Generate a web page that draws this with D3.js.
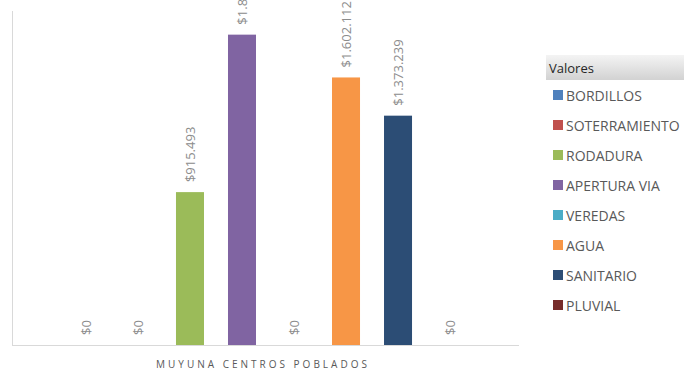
<!DOCTYPE html>
<html><head><meta charset="utf-8">
<script src="https://cdn.jsdelivr.net/npm/d3@7"></script>
<style>body{margin:0;background:#fff}</style>
</head><body>
<svg id="c" width="684" height="372"></svg>
<script>
const categories = ["BORDILLOS","SOTERRAMIENTO","RODADURA","APERTURA VIA","VEREDAS","AGUA","SANITARIO","PLUVIAL"];
const values = [0, 0, 915493, 1858410, 0, 1602112, 1373239, 0];
const labels = ["$0","$0","$915.493","$1.858.410","$0","$1.602.112","$1.373.239","$0"];
const colors = ["#4f81bd","#c0504d","#9bbb59","#8064a2","#4bacc6","#f79646","#2c4d75","#772c2a"];
const axisLabel = "MUYUNA CENTROS POBLADOS";
const legendTitle = "Valores";

const svg = d3.select("#c");
const font = "'Open Sans', sans-serif";
const x = d3.scaleBand().domain(categories).range([60, 476]).paddingInner(0.4615).paddingOuter(0.23);
const y = d3.scaleLinear().domain([0, 2000000]).range([345, 11]);

// axis lines
svg.append("line").attr("x1",12.5).attr("x2",12.5).attr("y1",y(2000000)).attr("y2",y(0)).attr("stroke","#d9d9d9");
svg.append("line").attr("x1",12).attr("x2",519).attr("y1",y(0)+0.5).attr("y2",y(0)+0.5).attr("stroke","#d9d9d9");

const data = categories.map((c,i)=>({c, v:values[i], l:labels[i], col:colors[i]}));
svg.selectAll("rect.bar").data(data).enter().append("rect")
  .attr("x", d=>x(d.c)).attr("width", x.bandwidth())
  .attr("y", d=>y(d.v)).attr("height", d=>y(0)-y(d.v))
  .attr("fill", d=>d.col);

svg.selectAll("text.val").data(data).enter().append("text")
  .attr("transform", d=>`translate(${x(d.c)+x.bandwidth()/2},${y(d.v)-10}) rotate(-90)`)
  .attr("dominant-baseline","central")
  .attr("font-family", font).attr("font-size", 13).attr("fill","#8c8c8c")
  .text(d=>d.l);

svg.append("text").attr("x",263).attr("y",368).attr("text-anchor","middle")
  .attr("font-family", font).attr("font-size", 10).attr("letter-spacing", 3).attr("fill","#595959")
  .text(axisLabel);

// legend
const grad = svg.append("defs").append("linearGradient").attr("id","lg").attr("x1",0).attr("x2",0).attr("y1",0).attr("y2",1);
grad.append("stop").attr("offset","0%").attr("stop-color","#f4f4f4");
grad.append("stop").attr("offset","100%").attr("stop-color","#d2d2d2");
svg.append("rect").attr("x",546).attr("y",55).attr("width",138).attr("height",25).attr("fill","url(#lg)");
svg.append("text").attr("x",549).attr("y",73).attr("font-family",font).attr("font-size",13).attr("fill","#262626").text(legendTitle);

const lg = svg.selectAll("g.leg").data(data).enter().append("g")
  .attr("transform",(d,i)=>`translate(553,${95+i*30})`);
lg.append("rect").attr("x",0).attr("y",-5).attr("width",10).attr("height",10).attr("fill",d=>d.col);
lg.append("text").attr("x",13).attr("y",0).attr("dominant-baseline","central")
  .attr("font-family",font).attr("font-size",14).attr("fill","#595959").text(d=>d.c);
</script>
</body></html>
